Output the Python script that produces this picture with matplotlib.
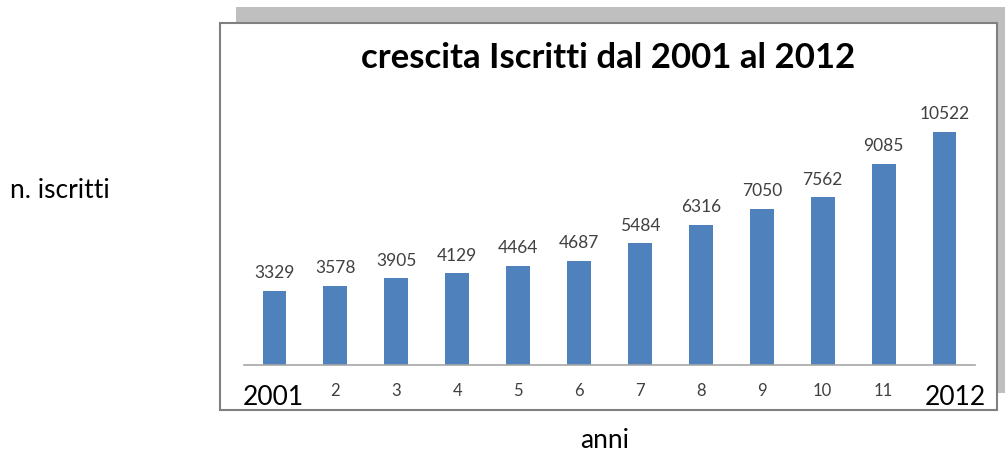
import matplotlib
matplotlib.use("Agg")
import matplotlib.pyplot as plt
from matplotlib.patches import Rectangle

plt.rcParams["font.family"] = ["Lato", "DejaVu Sans"]

# data
categories = ["2001", "2", "3", "4", "5", "6", "7", "8", "9", "10", "11", "2012"]
iscritti = [3329, 3578, 3905, 4129, 4464, 4687, 5484, 6316, 7050, 7562, 9085, 10522]
title = "crescita Iscritti dal 2001 al 2012"

W, H = 1005, 454
fig = plt.figure(figsize=(W / 100, H / 100), dpi=100)


def fx(px):
    return px / W


def fy(py):
    return 1 - py / H


# shadow + frame of the chart box
fig.patches.append(Rectangle((fx(236), fy(393)), fx(1005 - 236), (393 - 7) / H,
                             transform=fig.transFigure, facecolor="#bfbfbf",
                             edgecolor="none", zorder=0))
fig.patches.append(Rectangle((fx(220), fy(410)), fx(997 - 220), (410 - 23) / H,
                             transform=fig.transFigure, facecolor="white",
                             edgecolor="#808080", linewidth=1.5, zorder=1))

ax = fig.add_axes([fx(244), fy(365), fx(975 - 244), (365 - 99) / H])
ax.set_zorder(3)
ax.set_facecolor("none")
x = range(len(categories))
bars = ax.bar(x, iscritti, width=0.39, color="#4f81bd", zorder=2)
ax.set_xlim(-0.5, len(categories) - 0.5)
ax.set_ylim(0, 12000)
for spine in ["top", "right", "left"]:
    ax.spines[spine].set_visible(False)
ax.spines["bottom"].set_color("#a6a6a6")
ax.spines["bottom"].set_linewidth(1.2)
ax.set_yticks([])
ax.set_xticks(list(x))
ax.set_xticklabels([c if c not in ("2001", "2012") else "" for c in categories],
                   fontsize=12, color="#404040")
ax.tick_params(axis="x", length=0, pad=13)

for xi, v in zip(x, iscritti):
    ax.annotate(str(v), (xi, v), xytext=(0, 7), textcoords="offset points",
                ha="center", va="bottom", fontsize=12.5, color="#404040")

# large first/last year labels
fig.text(fx(243), fy(405), categories[0], fontsize=19, ha="left", va="baseline",
         color="black", zorder=4)
fig.text(fx(986), fy(405), categories[-1], fontsize=19, ha="right", va="baseline",
         color="black", zorder=4)

fig.text(fx(608), fy(58), title, fontsize=25, fontweight="bold", ha="center",
         va="center", zorder=4)
fig.text(fx(10), fy(191), "n. iscritti", fontsize=19, ha="left", va="center")
fig.text(fx(605), fy(453), "anni", fontsize=19, ha="center", va="bottom")

fig.savefig("out.png", dpi=100, facecolor="white")
